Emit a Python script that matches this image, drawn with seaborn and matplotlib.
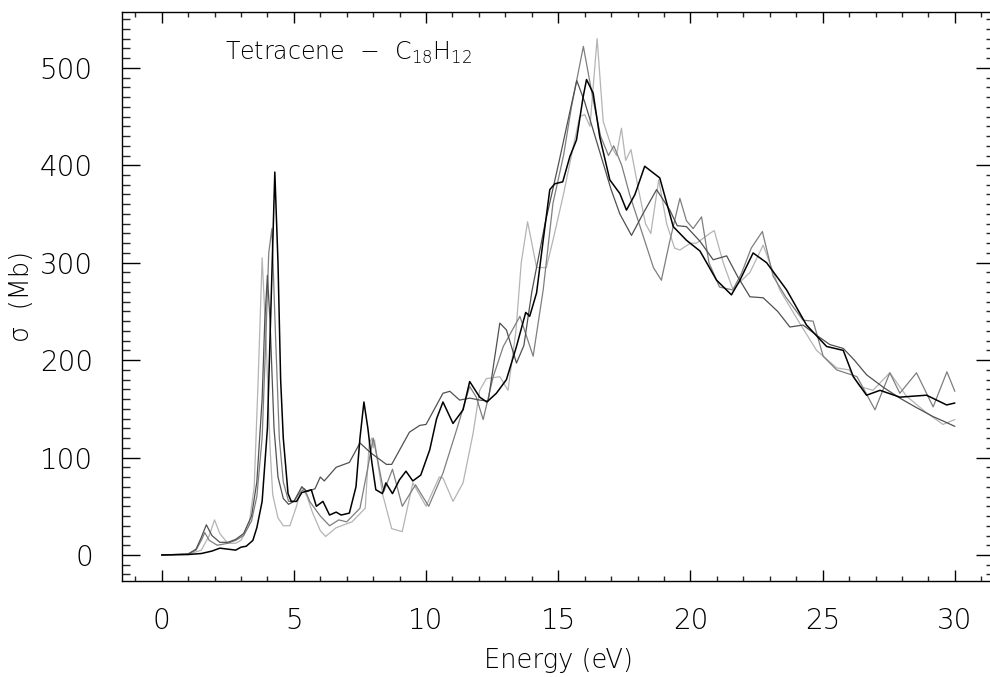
import numpy as np
import pandas as pd
import matplotlib
matplotlib.use("Agg")
import matplotlib.pyplot as plt
import matplotlib.font_manager as fm
from matplotlib.ticker import MultipleLocator
import seaborn as sns

# ---------------- data ----------------
e_black = [0, 1.0, 1.5, 1.9, 2.2, 2.5, 2.8, 3.0, 3.2, 3.45, 3.6, 3.8, 4.0, 4.15, 4.28, 4.4, 4.5, 4.6,
           4.78, 4.9, 5.1, 5.3, 5.66, 5.85, 6.1, 6.35, 6.6, 6.79, 7.1, 7.35, 7.5, 7.65, 7.8, 7.95, 8.1,
           8.35, 8.48, 8.73, 8.99, 9.24, 9.5, 9.8, 10.14, 10.4, 10.64, 11.02, 11.4, 11.65, 12.03, 12.3,
           12.66, 13.04, 13.42, 13.77, 13.92, 14.18, 14.43, 14.68, 14.87, 15.17, 15.44, 15.69, 15.94,
           16.07, 16.32, 16.57, 16.95, 17.33, 17.58, 17.9, 18.27, 18.84, 19.35, 19.85, 20.36, 20.99,
           21.55, 21.87, 22.37, 22.88, 23.64, 24.39, 25.15, 25.78, 26.16, 26.66, 27.17, 27.92, 28.93,
           29.69, 30.0]
s_black = [0, 0.5, 1.5, 4, 7, 6, 5, 8, 9, 15, 28, 55, 130, 270, 393, 300, 180, 120,
           63, 55, 55, 64, 67, 50, 55, 41, 44, 41, 43, 70, 120, 157, 130, 95, 67,
           63, 74, 63, 77, 86, 76, 82, 108, 140, 157, 135, 149, 178, 162, 157,
           166, 180, 214, 249, 245, 269, 323, 375, 381, 383, 409, 426, 470,
           488, 474, 429, 385, 371, 354, 370, 399, 387, 337, 323, 312, 282,
           267, 282, 310, 300, 272, 236, 214, 210, 183, 164, 169, 162, 164,
           154, 156]

e_dark = [0, 1.0, 1.3, 1.5, 1.69, 1.9, 2.2, 2.5, 2.8, 3.1, 3.4, 3.6, 3.8, 3.9, 4.0, 4.1, 4.25, 4.4,
          4.6, 4.8, 5.0, 5.3, 5.5, 5.8, 6.0, 6.15, 6.6, 7.1, 7.5, 7.9, 8.5, 8.7, 9.37, 9.76, 10.0,
          10.64, 10.9, 11.27, 11.65, 12.03, 12.35, 12.79, 13.04, 13.42, 13.7, 14.0, 14.5, 15.0, 15.4,
          15.7, 16.0, 16.5, 17.0, 17.33, 17.77, 18.2, 18.72, 19.22, 19.5, 19.85, 20.36, 20.86, 21.37,
          21.8, 22.25, 22.75, 23.3, 23.76, 24.26, 24.8, 25.27, 25.78, 26.2, 26.66, 27.3, 27.92, 28.5,
          29.18, 29.6, 30.0]
s_dark = [0, 1, 6, 18, 31, 20, 13, 13, 16, 22, 40, 75, 160, 240, 287, 240, 130, 80,
          58, 52, 55, 70, 65, 68, 80, 76, 90, 95, 115, 105, 93, 93, 126, 133, 134,
          166, 168, 159, 161, 159, 158, 238, 231, 197, 215, 270, 340, 400, 450,
          487, 465, 420, 375, 350, 328, 350, 375, 354, 338, 337, 322, 303, 307,
          285, 265, 264, 250, 234, 236, 225, 216, 212, 200, 185, 172, 161, 152,
          142, 137, 132]

e_mid = [0, 1.0, 1.3, 1.5, 1.63, 1.8, 2.1, 2.5, 2.8, 3.1, 3.4, 3.6, 3.8, 3.95, 4.05, 4.17, 4.3, 4.45,
         4.6, 4.8, 5.0, 5.2, 5.4, 5.6, 6.0, 6.35, 6.7, 7.0, 7.5, 7.8, 8.0, 8.15, 8.4, 8.73, 9.1, 9.6,
         10.1, 10.64, 11.15, 11.65, 11.9, 12.16, 12.54, 12.92, 13.55, 14.05, 14.43, 14.8, 15.2, 15.5,
         15.95, 16.3, 16.6, 16.9, 17.1, 17.4, 17.7, 18.0, 18.3, 18.6, 18.9, 19.2, 19.6, 19.85, 20.1,
         20.42, 20.7, 21.1, 21.6, 21.93, 22.3, 22.72, 23.13, 23.6, 24.26, 24.64, 25.02, 25.53, 26.3,
         26.98, 27.54, 27.92, 28.55, 29.18, 29.7, 30.0]
s_mid = [0, 1, 5, 15, 23, 15, 10, 12, 15, 20, 35, 60, 120, 230, 310, 335, 230, 120,
         75, 55, 55, 63, 68, 55, 40, 30, 36, 34, 48, 90, 120, 100, 65, 88, 50, 72,
         50, 84, 128, 173, 162, 139, 183, 214, 245, 204, 272, 361, 410, 460,
         522, 470, 430, 410, 420, 400, 370, 345, 320, 295, 282, 320, 366, 343, 335,
         347, 300, 275, 272, 289, 315, 332, 286, 265, 241, 240, 204, 190, 183,
         149, 187, 166, 187, 152, 188, 168]

e_light = [0, 1.0, 1.5, 1.8, 2.0, 2.2, 2.5, 2.8, 3.0, 3.3, 3.5, 3.65, 3.8, 3.95, 4.1, 4.2, 4.4, 4.6,
           4.85, 5.1, 5.3, 5.5, 5.7, 6.0, 6.2, 6.6, 7.2, 7.7, 7.85, 7.95, 8.0, 8.05, 8.2, 8.35, 8.7,
           9.1, 9.5, 10.0, 10.5, 10.64, 11.02, 11.4, 11.78, 12.03, 12.28, 12.79, 13.1, 13.4, 13.6,
           13.84, 14.0, 14.18, 14.55, 14.8, 15.18, 15.5, 15.81, 16.0, 16.2, 16.47, 16.7, 17.0, 17.2,
           17.39, 17.55, 17.75, 18.0, 18.3, 18.5, 18.8, 19.1, 19.4, 19.6, 20.0, 20.23, 20.73, 20.9,
           21.24, 21.6, 22.25, 22.75, 23.38, 24.13, 24.77, 25.53, 26.0, 26.4, 26.9, 27.54, 28.17,
           28.93, 29.55, 30.0]
s_light = [0, 0.5, 5, 20, 36, 22, 12, 12, 15, 30, 70, 180, 305, 220, 110, 62, 38, 30,
           30, 50, 70, 60, 44, 25, 19, 28, 34, 48, 115, 120, 110, 118, 90, 63, 27,
           24, 74, 50, 80, 79, 55, 74, 125, 169, 181, 183, 169, 230, 300,
           342, 320, 295, 295, 323, 368, 410, 450, 452, 440, 530, 445, 420, 410,
           438, 405, 416, 380, 340, 330, 385, 340, 315, 313, 320, 320, 330, 333,
           300, 273, 290, 318, 272, 238, 210, 192, 190, 173, 169, 187, 163,
           146, 134, 139]

x_major = [0, 5, 10, 15, 20, 25, 30]
y_major = [0, 100, 200, 300, 400, 500]

# ---------------- style ----------------
sns.set_theme(style="white")


def pick_light_family():
    prefs = ["DejaVu Sans", "DejaVu Sans Light", "Lato", "Roboto", "Open Sans", "Inter", "Noto Sans"]
    for name in prefs:
        best = None
        for f in fm.fontManager.ttflist:
            if f.name == name:
                w = f.weight
                if isinstance(w, str):
                    w = fm.weight_dict.get(w, 400)
                if w <= 300 and (best is None or w < best):
                    best = w
        if best is not None:
            return name, best
    return "DejaVu Sans", 400


fam, wt = pick_light_family()
plt.rcParams["font.family"] = [fam, "DejaVu Sans"]
plt.rcParams["font.weight"] = wt
plt.rcParams["axes.labelweight"] = wt
plt.rcParams["text.color"] = "black"
plt.rcParams["axes.labelcolor"] = "black"
plt.rcParams["mathtext.fontset"] = "custom"
plt.rcParams["mathtext.rm"] = fam
plt.rcParams["mathtext.default"] = "regular"

fig = plt.figure(figsize=(9.9, 6.77), dpi=100)
ax = fig.add_axes([122 / 990, 96 / 677, (994.5 - 122) / 990, (581 - 12.3) / 677])

series = [
    (e_light, s_light, "#b4b4b4", 0.9),
    (e_mid, s_mid, "#7e7e7e", 0.9),
    (e_dark, s_dark, "#505050", 0.9),
    (e_black, s_black, "#000000", 1.1),
]
for ex, sy, col, lw in series:
    df = pd.DataFrame({"energy": ex, "sigma": sy})
    sns.lineplot(data=df, x="energy", y="sigma", color=col, linewidth=lw,
                 sort=False, estimator=None, ax=ax)

ax.set_xlim(-1.5, 31.5)
ax.set_ylim(-26.7, 557)
ax.set_xticks(x_major)
ax.set_yticks(y_major)
ax.xaxis.set_minor_locator(MultipleLocator(1))
ax.yaxis.set_minor_locator(MultipleLocator(10))

for sp in ax.spines.values():
    sp.set_visible(True)
    sp.set_color("black")
    sp.set_linewidth(1.0)

ax.tick_params(axis="x", which="major", direction="in", length=8, width=1.0,
               top=True, bottom=True, pad=19, labelsize=20, colors="black")
ax.tick_params(axis="x", which="minor", direction="in", length=3.6, width=1.0,
               top=True, bottom=True)
ax.tick_params(axis="y", which="major", direction="in", length=13, width=1.0,
               left=True, right=True, pad=21, labelsize=20, colors="black")
ax.tick_params(axis="y", which="minor", direction="in", length=5.8, width=1.0,
               left=True, right=True)

ax.set_xlabel("Energy (eV)", fontsize=18.5, labelpad=9)
ax.set_ylabel("σ  (Mb)", fontsize=18.5, labelpad=4)

ax.text(2.38, 508, "Tetracene  \u2212  C$_{18}$H$_{12}$", fontsize=17,
        ha="left", va="baseline", color="black")

fig.savefig("out.png", dpi=100)
